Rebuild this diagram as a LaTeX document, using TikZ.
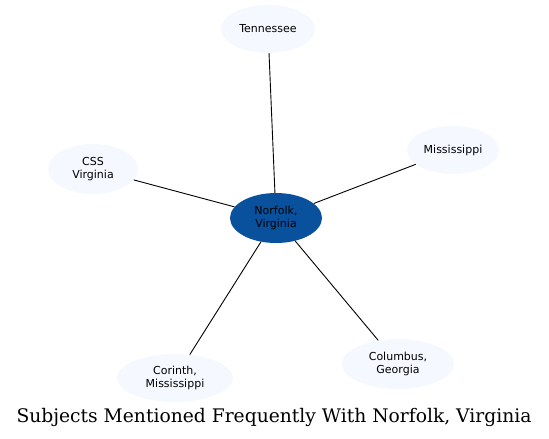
\documentclass[tikz,border=0pt]{standalone}
\usepackage{fontspec}
\newfontfamily\dejavu{DejaVu Sans}
\newfontfamily\dejavuserif{DejaVu Serif}
\usetikzlibrary{shapes.geometric}
\definecolor{hubblue}{HTML}{0A519D}
\definecolor{leafblue}{HTML}{F5F8FE}
\begin{document}
\begin{tikzpicture}[x=1pt,y=-1pt,
  leaf/.style={ellipse,fill=leafblue,inner sep=0pt,font=\dejavu\fontsize{11}{12.5}\selectfont,align=center},
  hub/.style={ellipse,fill=hubblue,inner sep=0pt,minimum width=92pt,minimum height=50pt,font=\dejavu\fontsize{11}{12.5}\selectfont,align=center},
  link/.style={draw=black,line width=0.9pt}]
\useasboundingbox (0,0) rectangle (549,439);
\node[hub] (nv) at (276,218) {Norfolk,\\Virginia};
\node[leaf,minimum width=94pt,minimum height=48pt] (tn) at (268,29) {Tennessee};
\node[leaf,minimum width=92pt,minimum height=48pt] (ms) at (453,150) {Mississippi};
\node[leaf,minimum width=90pt,minimum height=50pt] (css) at (93,169) {CSS\\Virginia};
\node[leaf,minimum width=116pt,minimum height=48pt] (co) at (175,378) {Corinth,\\Mississippi};
\node[leaf,minimum width=112pt,minimum height=50pt] (cg) at (398,364) {Columbus,\\Georgia};
\node[font=\dejavuserif\fontsize{18.7}{22}\selectfont] (title) at (274,417) {Subjects Mentioned Frequently With Norfolk, Virginia};
\draw[link] (nv) -- (tn);
\draw[link] (nv) -- (ms);
\draw[link] (nv) -- (css);
\draw[link] (nv) -- (co);
\draw[link] (nv) -- (cg);
\end{tikzpicture}
\end{document}
